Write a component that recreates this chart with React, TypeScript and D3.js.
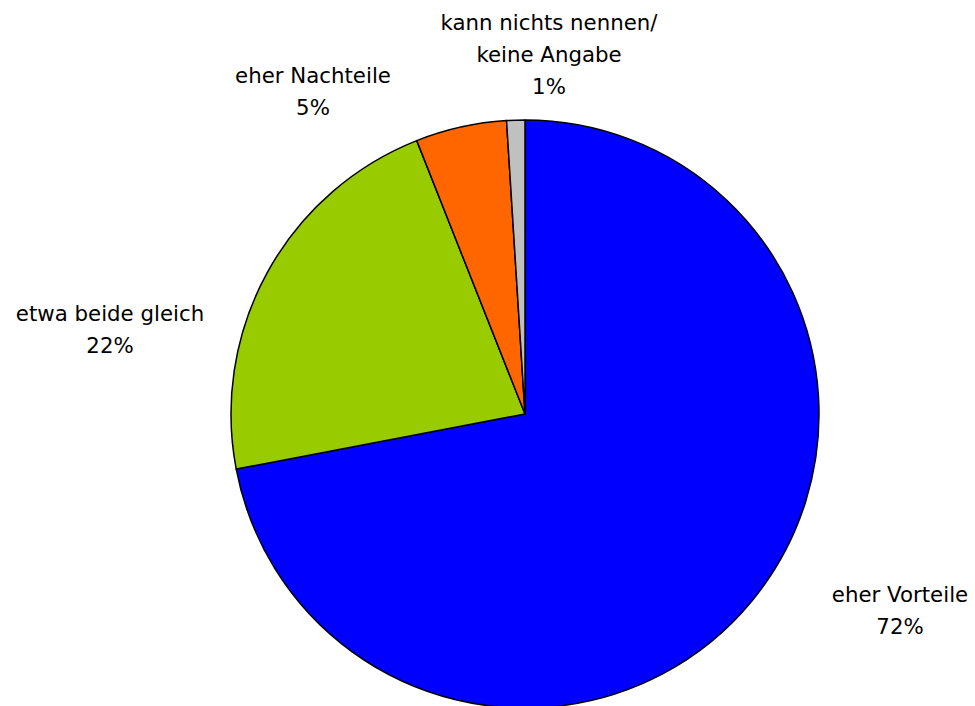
import React, { useRef, useEffect } from 'react';
import * as d3 from 'd3';

// Slice data, clockwise from 12 o'clock
const categories = ['eher Vorteile', 'etwa beide gleich', 'eher Nachteile', 'kann nichts nennen/\nkeine Angabe'];
const values = [72, 22, 5, 1];
const colors = ['#0000FF', '#99CC00', '#FF6600', '#C0C0C0'];

// Label anchors (center x, baseline of first line)
const labelAnchors: [number, number][] = [
  [900, 602],
  [110, 321],
  [313, 83],
  [549, 30],
];

const App: React.FC = () => {
  const ref = useRef<SVGSVGElement | null>(null);

  useEffect(() => {
    if (!ref.current) return;
    const svg = d3.select(ref.current);
    svg.selectAll('*').remove();

    const cx = 525;
    const cy = 414;
    const radius = 294;
    const lineHeight = 32;

    const data = categories.map((c, i) => ({ label: c, value: values[i], color: colors[i] }));

    const pie = d3.pie<typeof data[number]>()
      .value(d => d.value)
      .sort(null);

    const arc = d3.arc<d3.PieArcDatum<typeof data[number]>>()
      .innerRadius(0)
      .outerRadius(radius);

    const g = svg.append('g').attr('transform', `translate(${cx},${cy})`);

    g.selectAll('path')
      .data(pie(data))
      .join('path')
      .attr('d', arc)
      .attr('fill', d => d.data.color)
      .attr('stroke', '#000')
      .attr('stroke-width', 1.5)
      .attr('stroke-linejoin', 'round');

    // Labels
    const labels = svg.append('g')
      .attr('font-family', '"DejaVu Sans", Tahoma, sans-serif')
      .attr('font-size', 21.3)
      .attr('fill', '#000')
      .attr('text-anchor', 'middle');

    data.forEach((d, i) => {
      const [lx, ly] = labelAnchors[i];
      const lines = [...d.label.split('\n'), `${d.value}%`];
      const t = labels.append('text').attr('x', lx).attr('y', ly);
      lines.forEach((line, j) => {
        t.append('tspan')
          .attr('x', lx)
          .attr('dy', j === 0 ? 0 : lineHeight)
          .text(line);
      });
    });
  }, []);

  return (
    <svg
      ref={ref}
      width={975}
      height={706}
      style={{ position: 'absolute', left: 0, top: 0, background: '#fff' }}
    />
  );
};

export default App;
